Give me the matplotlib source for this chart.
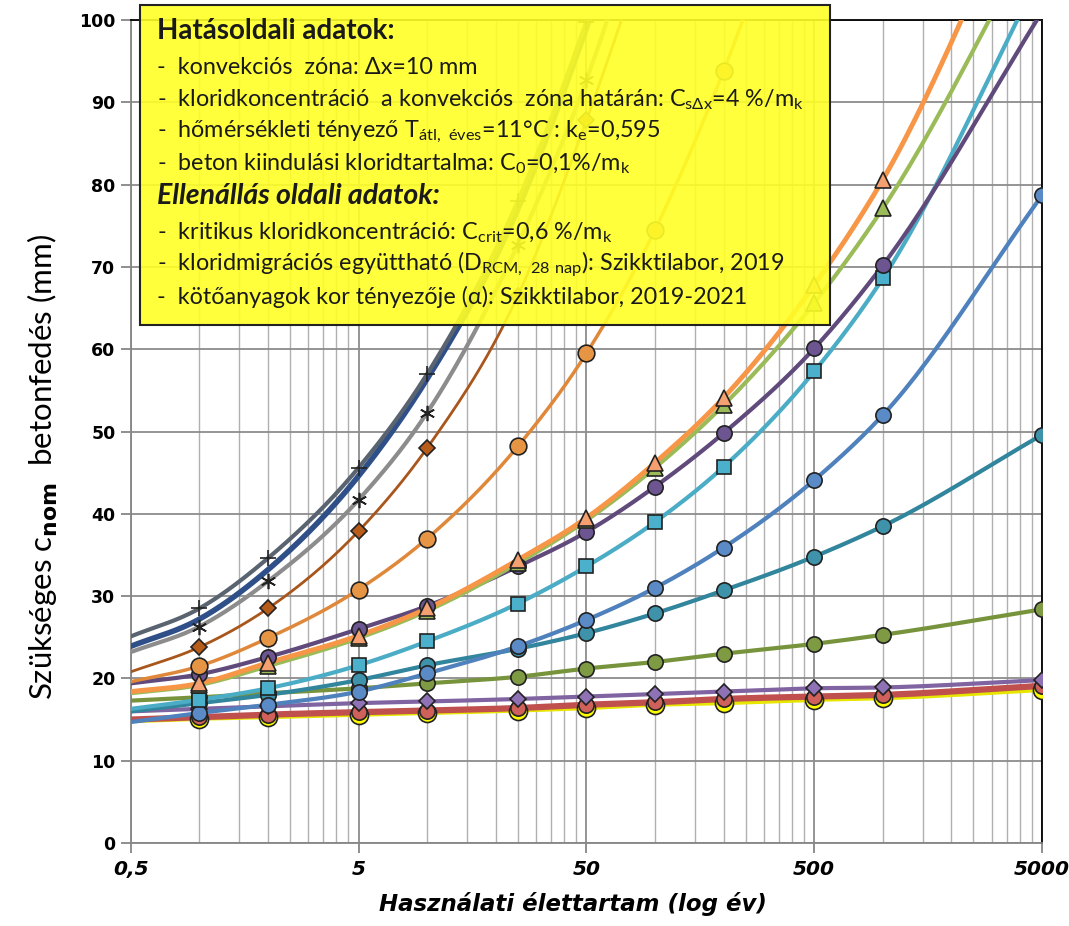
import numpy as np
import matplotlib
matplotlib.use("Agg")
import matplotlib.pyplot as plt
from matplotlib.ticker import FixedLocator, NullFormatter
from matplotlib.patches import Rectangle

# years (first point is the curve start, no marker drawn there)
years = [0.5, 1, 2, 5, 10, 25, 50, 100, 200, 500, 1000, 5000]

s_plus = [25.1, 28.5, 34.6, 45.6, 57.0, 78.0, 99.8, 125]
s_navy = [23.9, 27.2, 33.2, 44.6, 56.4, 77.0, 99.0, 124]
s_star = [23.2, 26.3, 31.8, 41.7, 52.3, 72.7, 92.7, 118]
s_brown = [20.8, 23.8, 28.5, 37.9, 48.0, 66.5, 87.8, 112]
s_orange = [19.6, 21.5, 24.9, 30.8, 37.0, 48.2, 59.5, 74.5, 93.8, 125]
s_tri_or = [18.4, 19.4, 21.9, 25.2, 28.5, 34.4, 39.5, 46.2, 54.1, 67.8, 80.6, 122]
s_tri_gr = [18.2, 19.2, 21.5, 24.9, 28.2, 34.0, 39.2, 45.6, 53.2, 65.6, 77.1, 112]
s_purple = [19.4, 20.5, 22.6, 26.0, 28.8, 33.6, 37.8, 43.3, 49.8, 60.1, 70.2, 101]
s_square = [16.3, 17.4, 18.8, 21.6, 24.5, 29.1, 33.6, 39.0, 45.7, 57.3, 68.6, 106]
s_blue = [14.7, 15.8, 16.8, 18.4, 20.6, 23.9, 27.1, 31.0, 35.9, 44.1, 52.0, 78.7]
s_teal = [16.0, 17.0, 18.0, 19.8, 21.6, 23.6, 25.5, 27.9, 30.7, 34.8, 38.5, 49.6]
s_olive = [17.3, 17.7, 18.2, 18.8, 19.4, 20.2, 21.2, 22.0, 23.0, 24.2, 25.3, 28.4]
s_diam = [16.0, 16.3, 16.6, 17.0, 17.2, 17.5, 17.8, 18.1, 18.4, 18.8, 18.9, 19.8]
s_red = [15.0, 15.3, 15.6, 15.9, 16.1, 16.4, 16.8, 17.1, 17.5, 17.8, 18.0, 19.1]
s_yellow = [14.8, 15.1, 15.3, 15.6, 15.8, 16.1, 16.4, 16.8, 17.0, 17.4, 17.6, 18.6]


def smooth(xs, ys, n=30):
    # cubic Hermite through the points in log-x, Bessel tangents
    lx = np.log10(xs)
    y = np.asarray(ys, float)
    h = np.diff(lx)
    d = np.diff(y) / h
    m = np.empty_like(y)
    m[0], m[-1] = d[0], d[-1]
    for i in range(1, len(y) - 1):
        m[i] = (h[i - 1] * d[i] + h[i] * d[i - 1]) / (h[i - 1] + h[i])
    px, py = [], []
    for i in range(len(h)):
        t = np.linspace(0, 1, n)
        h00 = 2 * t**3 - 3 * t**2 + 1
        h10 = t**3 - 2 * t**2 + t
        h01 = -2 * t**3 + 3 * t**2
        h11 = t**3 - t**2
        px.append(lx[i] + t * h[i])
        py.append(h00 * y[i] + h10 * h[i] * m[i] + h01 * y[i + 1] + h11 * h[i] * m[i + 1])
    return 10 ** np.concatenate(px), np.concatenate(py)


fig = plt.figure(figsize=(10.69, 9.26), dpi=100)
ax = fig.add_axes([0.1223, 0.0896, 0.8525, 0.8888])

series = [
    # values, line colour, lw, marker, face, size
    (s_yellow, "#E6E600", 3.0, "o", "#FFFF00", 13),
    (s_red, "#C0504D", 4.5, "o", "#D0605A", 11),
    (s_diam, "#8064A2", 3.0, "D", "#8F72B5", 8),
    (s_olive, "#77933C", 3.0, "o", "#7E9B44", 11),
    (s_teal, "#31859C", 3.0, "o", "#3E93AA", 11),
    (s_blue, "#4F81BD", 3.0, "o", "#5A8BC7", 11),
    (s_square, "#4BACC6", 3.0, "s", "#4BB0CB", 10),
    (s_purple, "#604A7B", 3.0, "o", "#6C5590", 11),
    (s_tri_gr, "#9BBB59", 3.0, "^", "#9BBB59", 11),
    (s_tri_or, "#F79646", 3.5, "^", "#F4A070", 11),
    (s_orange, "#E0883A", 2.5, "o", "#E69545", 12),
    (s_brown, "#A8561C", 2.0, "D", "#B85C1A", 8),
    (s_star, "#8C8C8C", 3.0, (6, 2, 0), "none", 11),
    (s_navy, "#2F4F88", 4.0, None, "none", 0),
    (s_plus, "#5A6470", 3.0, "+", "none", 12),
]

for vals, col, lw, mk, fc, ms in series:
    xs = years[:len(vals)]
    sx, sy = smooth(xs, vals)
    ax.plot(sx, sy, color=col, lw=lw, solid_capstyle="round", zorder=3)
    if mk is not None:
        ax.plot(xs[1:], vals[1:], ls="none", marker=mk, ms=ms, mfc=fc,
                mec="#222222", mew=1.2, zorder=4)

ax.set_xscale("log")
ax.set_xlim(0.5, 5000)
ax.set_ylim(0, 100)

majors = [0.5, 5, 50, 500, 5000]
minors = [0.5 * k * 10 ** d for d in range(4) for k in range(2, 10)]
ax.xaxis.set_major_locator(FixedLocator(majors))
ax.xaxis.set_minor_locator(FixedLocator(minors))
ax.xaxis.set_minor_formatter(NullFormatter())
ax.set_xticklabels(["0,5", "5", "50", "500", "5000"])
ax.set_yticks(range(0, 101, 10))

ax.grid(True, which="major", axis="both", color="#8C8C8C", lw=1.3, zorder=0)
ax.grid(True, which="minor", axis="x", color="#B0B0B0", lw=1.0, zorder=0)
ax.set_axisbelow(True)

for s in ("left", "bottom"):
    ax.spines[s].set_color("#868686")
    ax.spines[s].set_linewidth(1.3)
for s in ("top", "right"):
    ax.spines[s].set_color("black")
    ax.spines[s].set_linewidth(1.3)

ax.tick_params(axis="x", which="major", length=7, color="#868686", width=1.3, pad=5)
ax.tick_params(axis="x", which="minor", length=0)
ax.tick_params(axis="y", length=7, color="#868686", width=1.3, pad=4)
for t in ax.get_xticklabels():
    t.set_fontsize(14.5)
    t.set_fontweight("bold")
    t.set_fontstyle("italic")
for t in ax.get_yticklabels():
    t.set_fontsize(12.5)
    t.set_fontweight("bold")

ax.set_xlabel("Használati élettartam (log év)", fontsize=16.5, fontweight="bold",
              fontstyle="italic")
ax.xaxis.set_label_coords(0.485, -0.06)
ax.set_ylabel(r"Szükséges c$_{\mathbf{nom}}$  betonfedés (mm)", fontsize=22.5,
              family=["Lato", "DejaVu Sans"])
ax.yaxis.set_label_coords(-0.078, 0.457)

# yellow info box over the plot
box = Rectangle((140 / 1069, 1 - 325 / 926), 690 / 1069, 320 / 926,
                transform=fig.transFigure, facecolor=(1, 1, 0.15), alpha=0.9,
                edgecolor="none", zorder=10)
fig.patches.append(box)
frame = Rectangle((140 / 1069, 1 - 325 / 926), 690 / 1069, 320 / 926,
                  transform=fig.transFigure, facecolor="none",
                  edgecolor="#222222", lw=1.5, zorder=11)
fig.patches.append(frame)

lines = [
    (31, "Hatásoldali adatok:", "bold", "normal", 20),
    (68, "-  konvekciós  zóna: Δx=10 mm", "normal", "normal", 16.8),
    (100, r"-  kloridkoncentráció  a konvekciós  zóna határán: C$_{\mathregular{s\Delta x}}$=4 %/m$_{\mathregular{k}}$", "normal", "normal", 16.8),
    (132, r"-  hőmérsékleti tényező T$_{\mathregular{átl,\ éves}}$=11°C : k$_{\mathregular{e}}$=0,595", "normal", "normal", 16.8),
    (164, r"-  beton kiindulási kloridtartalma: C$_{\mathregular{0}}$=0,1%/m$_{\mathregular{k}}$", "normal", "normal", 16.8),
    (196, "Ellenállás oldali adatok:", "bold", "italic", 20.5),
    (233, r"-  kritikus kloridkoncentráció: C$_{\mathregular{crit}}$=0,6 %/m$_{\mathregular{k}}$", "normal", "normal", 16.8),
    (265, r"-  kloridmigrációs együttható (D$_{\mathregular{RCM,\ 28\ nap}}$): Szikktilabor, 2019", "normal", "normal", 16.8),
    (297, "-  kötőanyagok kor tényezője (α): Szikktilabor, 2019-2021", "normal", "normal", 16.8),
]
for y, txt, fw, fs, size in lines:
    fig.text(157 / 1069, 1 - y / 926, txt, fontsize=size, fontweight=fw,
             fontstyle=fs, va="center", ha="left", color="#1a1a1a", zorder=12,
             family=["Lato", "DejaVu Sans"])

fig.savefig("out.png", dpi=100)
